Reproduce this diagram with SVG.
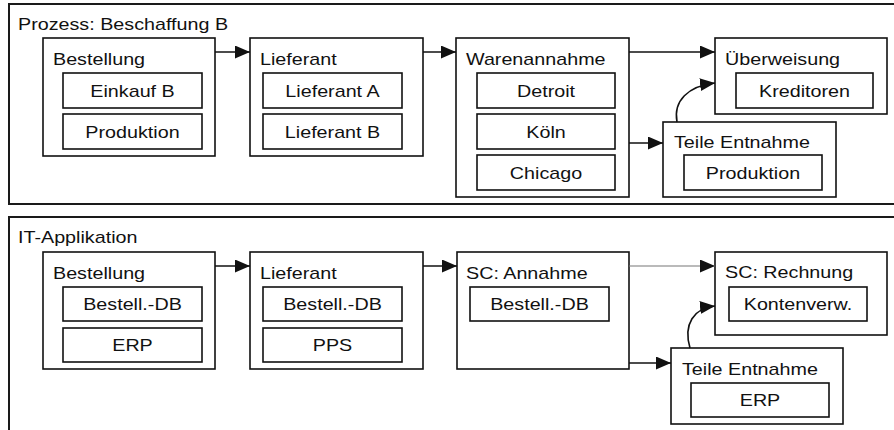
<svg xmlns="http://www.w3.org/2000/svg" width="894" height="430" viewBox="0 0 894 430">
<style>
.panel{fill:#fff;stroke:#1a1a1a;stroke-width:2}
.box{fill:#fff;stroke:#111;stroke-width:1.6}
.t{font-family:"Liberation Sans",Arial,sans-serif;font-size:17px;fill:#111}
.c{text-anchor:middle}
.con{fill:none;stroke:#111;stroke-width:1.6}
.thin{fill:none;stroke:#777;stroke-width:1.2}
</style>
<defs>
<marker id="ah" viewBox="0 0 15 13" refX="15" refY="6.5" markerWidth="15" markerHeight="13" markerUnits="userSpaceOnUse" orient="auto">
<path d="M0,0 L15,6.5 L0,13 Z" fill="#111"/>
</marker>
</defs>

<g id="panel-prozess">
<rect class="panel" x="9" y="4" width="900" height="200"/>
<text class="t" transform="translate(18,30) scale(1.16,1)">Prozess: Beschaffung B</text>
</g>
<g id="panel-it">
<rect class="panel" x="9" y="217" width="900" height="230"/>
<text class="t" transform="translate(18,243) scale(1.16,1)">IT-Applikation</text>
</g>

<g id="p-bestellung">
<rect class="box" x="43" y="38" width="172" height="118"/>
<text class="t" transform="translate(53,65) scale(1.16,1)">Bestellung</text>
<rect class="box" x="63" y="73" width="139" height="35"/>
<text class="t c" transform="translate(132.5,97) scale(1.16,1)">Einkauf B</text>
<rect class="box" x="63" y="114" width="139" height="35"/>
<text class="t c" transform="translate(132.5,138) scale(1.16,1)">Produktion</text>
</g>
<g id="p-lieferant">
<rect class="box" x="250" y="38" width="173" height="118"/>
<text class="t" transform="translate(260,65) scale(1.16,1)">Lieferant</text>
<rect class="box" x="263" y="73" width="139" height="35"/>
<text class="t c" transform="translate(332.5,97) scale(1.16,1)">Lieferant A</text>
<rect class="box" x="263" y="114" width="139" height="35"/>
<text class="t c" transform="translate(332.5,138) scale(1.16,1)">Lieferant B</text>
</g>
<g id="p-warenannahme">
<rect class="box" x="456" y="38" width="173" height="159"/>
<text class="t" transform="translate(466,65) scale(1.16,1)">Warenannahme</text>
<rect class="box" x="477" y="73" width="138" height="35"/>
<text class="t c" transform="translate(546,97) scale(1.16,1)">Detroit</text>
<rect class="box" x="477" y="114" width="138" height="35"/>
<text class="t c" transform="translate(546,138) scale(1.16,1)">Köln</text>
<rect class="box" x="477" y="155" width="138" height="35"/>
<text class="t c" transform="translate(546,179) scale(1.16,1)">Chicago</text>
</g>
<g id="p-ueberweisung">
<rect class="box" x="715" y="38" width="172" height="76"/>
<text class="t" transform="translate(725,65) scale(1.16,1)">Überweisung</text>
<rect class="box" x="736" y="73" width="137" height="35"/>
<text class="t c" transform="translate(804.5,97) scale(1.16,1)">Kreditoren</text>
</g>
<g id="p-teile">
<rect class="box" x="663" y="122" width="173" height="75"/>
<text class="t" transform="translate(674,148) scale(1.16,1)">Teile Entnahme</text>
<rect class="box" x="684" y="155" width="138" height="35"/>
<text class="t c" transform="translate(753,179) scale(1.16,1)">Produktion</text>
</g>

<g id="i-bestellung">
<rect class="box" x="43" y="252" width="172" height="117"/>
<text class="t" transform="translate(53,279) scale(1.16,1)">Bestellung</text>
<rect class="box" x="63" y="287" width="139" height="34"/>
<text class="t c" transform="translate(132.5,310) scale(1.16,1)">Bestell.-DB</text>
<rect class="box" x="63" y="328" width="139" height="34"/>
<text class="t c" transform="translate(132.5,351) scale(1.16,1)">ERP</text>
</g>
<g id="i-lieferant">
<rect class="box" x="250" y="252" width="173" height="117"/>
<text class="t" transform="translate(260,279) scale(1.16,1)">Lieferant</text>
<rect class="box" x="263" y="287" width="139" height="34"/>
<text class="t c" transform="translate(332.5,310) scale(1.16,1)">Bestell.-DB</text>
<rect class="box" x="263" y="328" width="139" height="34"/>
<text class="t c" transform="translate(332.5,351) scale(1.16,1)">PPS</text>
</g>
<g id="i-annahme">
<rect class="box" x="457" y="252" width="172" height="117"/>
<text class="t" transform="translate(466,279) scale(1.16,1)">SC: Annahme</text>
<rect class="box" x="470" y="287" width="139" height="34"/>
<text class="t c" transform="translate(539.5,310) scale(1.16,1)">Bestell.-DB</text>
</g>
<g id="i-rechnung">
<rect class="box" x="715" y="252" width="172" height="83"/>
<text class="t" transform="translate(725,278) scale(1.16,1)">SC: Rechnung</text>
<rect class="box" x="729" y="287" width="138" height="34"/>
<text class="t c" transform="translate(798,310) scale(1.16,1)">Kontenverw.</text>
</g>
<g id="i-teile">
<rect class="box" x="671" y="348" width="172" height="76"/>
<text class="t" transform="translate(682,375) scale(1.16,1)">Teile Entnahme</text>
<rect class="box" x="691" y="383" width="138" height="34"/>
<text class="t c" transform="translate(760,406) scale(1.16,1)">ERP</text>
</g>

<g id="connectors">
<path class="con" d="M215,52 H250" marker-end="url(#ah)"/>
<path class="con" d="M423,52 H456" marker-end="url(#ah)"/>
<path class="con" d="M629,52 H715" marker-end="url(#ah)"/>
<path class="con" d="M629,143 H663" marker-end="url(#ah)"/>
<path class="con" d="M677,122 C673,101 688,86 715,83" marker-end="url(#ah)"/>
<path class="con" d="M215,266 H250" marker-end="url(#ah)"/>
<path class="con" d="M423,266 H457" marker-end="url(#ah)"/>
<path class="thin" d="M629,266 H715" marker-end="url(#ah)"/>
<path class="con" d="M629,363 H671" marker-end="url(#ah)"/>
<path class="con" d="M690,348 C683,324 694,308 715,306" marker-end="url(#ah)"/>
</g>
</svg>
